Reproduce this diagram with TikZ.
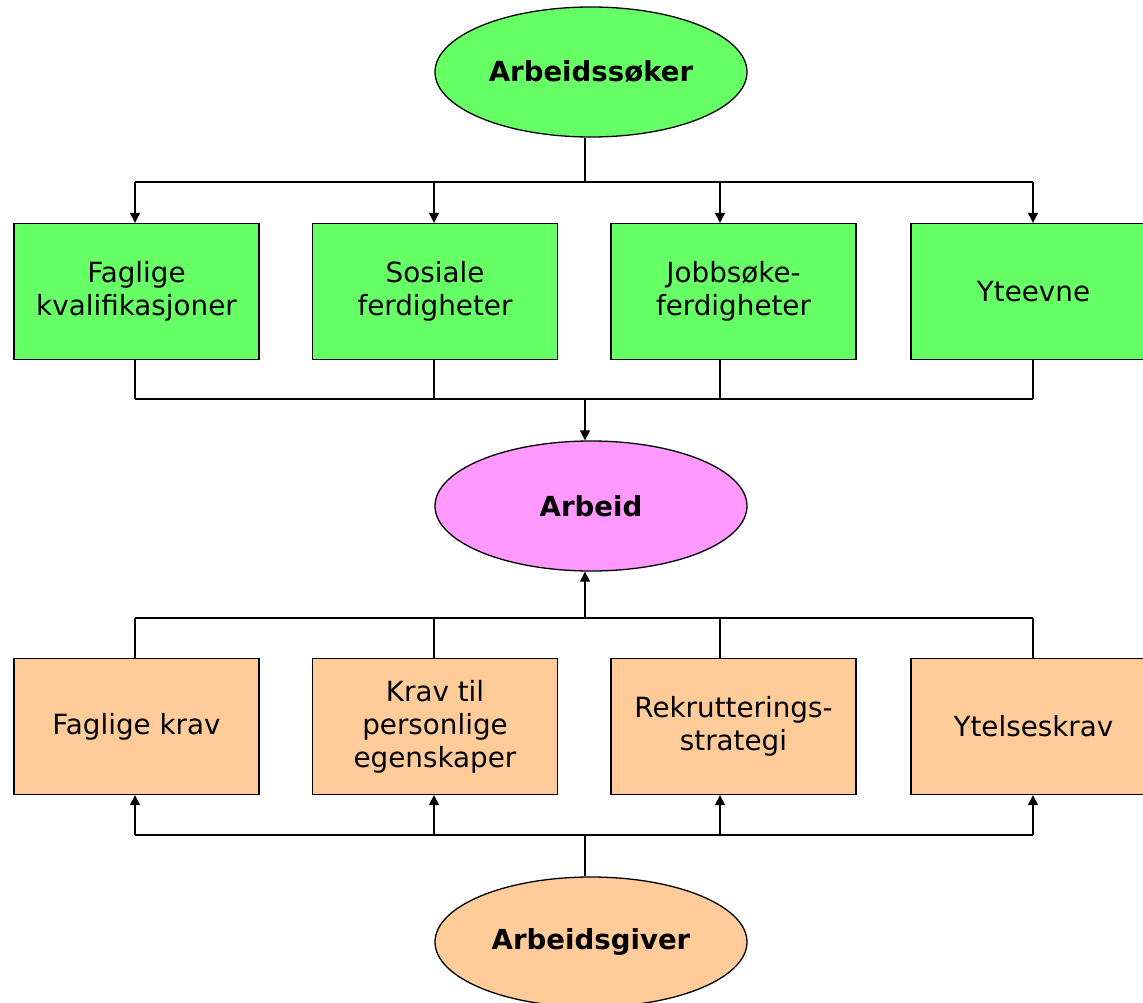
\documentclass[tikz,border=0pt]{standalone}
\usepackage{fontspec}
\setmainfont{DejaVu Sans}
\usetikzlibrary{shapes.geometric,arrows.meta}
\definecolor{grn}{HTML}{66FF66}
\definecolor{pnk}{HTML}{FF99FF}
\definecolor{pch}{HTML}{FFCC99}
\begin{document}
\begin{tikzpicture}[x=1pt,y=-1pt,line width=1.3pt,
  ell/.style={ellipse,draw,minimum width=312pt,minimum height=130pt,inner sep=0pt,
    font=\fontsize{27.6}{33}\selectfont\bfseries},
  box/.style={rectangle,draw,minimum width=245pt,minimum height=136pt,align=center,
    font=\fontsize{27.8}{33}\selectfont},
  arr/.style={-{Triangle[width=10pt,length=10pt]}}]
\useasboundingbox (0,0) rectangle (1143,1003);
% nodes
\node[ell,fill=grn] (A) at (591,72) {Arbeidssøker};
\node[box,fill=grn] (b1) at (136.5,291.5) {Faglige\\kvalifikasjoner};
\node[box,fill=grn] (b2) at (435,291.5) {Sosiale\\ferdigheter};
\node[box,fill=grn] (b3) at (733.5,291.5) {Jobbsøke-\\ferdigheter};
\node[box,fill=grn] (b4) at (1033.5,291.5) {Yteevne};
\node[ell,fill=pnk] (W) at (591,506) {Arbeid};
\node[box,fill=pch] (c1) at (136.5,726.5) {Faglige krav};
\node[box,fill=pch] (c2) at (435,726.5) {Krav til\\personlige\\egenskaper};
\node[box,fill=pch] (c3) at (733.5,726.5) {Rekrutterings-\\strategi};
\node[box,fill=pch] (c4) at (1033.5,726.5) {Ytelseskrav};
\node[ell,fill=pch] (G) at (591,942) {Arbeidsgiver};
% bus coordinates
\foreach \n/\y in {t/182,u/399,v/618,w/835}{
  \coordinate (\n0) at (585,\y);
  \coordinate (\n1) at (135,\y);
  \coordinate (\n2) at (434,\y);
  \coordinate (\n3) at (720,\y);
  \coordinate (\n4) at (1033,\y);
}
% top fan-out
\draw (A.south -| t0) -- (t0);
\draw (t1) -- (t4);
\foreach \i in {1,2,3,4}{\draw[arr] (t\i) -- (t\i |- b\i.north);}
% top fan-in
\foreach \i in {1,2,3,4}{\draw (b\i.south -| u\i) -- (u\i);}
\draw (u1) -- (u4);
\draw[arr] (u0) -- (u0 |- W.north);
% lower fan-in
\draw[arr] (v0) -- (v0 |- W.south);
\draw (v1) -- (v4);
\foreach \i in {1,2,3,4}{\draw (v\i) -- (v\i |- c\i.north);}
% bottom fan-out
\foreach \i in {1,2,3,4}{\draw[arr] (w\i) -- (w\i |- c\i.south);}
\draw (w1) -- (w4);
\draw (w0) -- (w0 |- G.north);
\end{tikzpicture}
\end{document}
